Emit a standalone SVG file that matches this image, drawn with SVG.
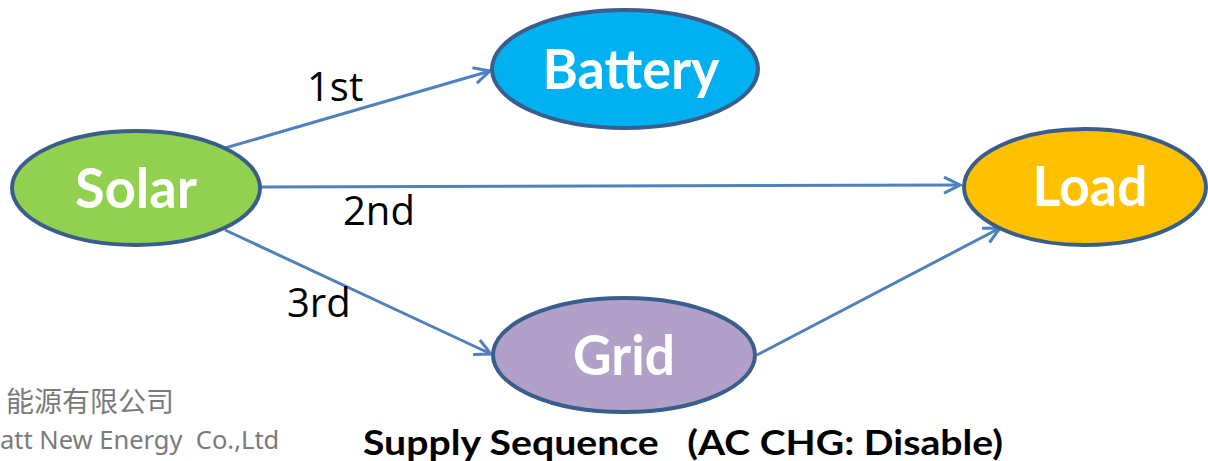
<svg xmlns="http://www.w3.org/2000/svg" width="1208" height="461" viewBox="0 0 1208 461">
<style>
.node{stroke:#3A5E8C;stroke-width:4}
.nl{font-family:Lato,"Open Sans",sans-serif;font-weight:bold;font-size:55px;fill:#fff;text-anchor:middle}
.edge{stroke:#4F81BD;stroke-width:3;fill:none;marker-end:url(#arr)}
.el{font-family:"Open Sans","Liberation Sans",sans-serif;font-size:40px;fill:#000}
.wm{fill:#7a7a7a}
</style>
<defs>
<marker id="arr" viewBox="0 0 20 20" refX="18" refY="10" markerWidth="20" markerHeight="20" markerUnits="userSpaceOnUse" orient="auto">
<path d="M2,2 L18,10 L2,18" fill="none" stroke="#4F81BD" stroke-width="3"/>
</marker>
</defs>
<g id="connectors">
<line class="edge" x1="225" y1="148" x2="490" y2="71"/>
<line class="edge" x1="260" y1="187" x2="960" y2="185"/>
<line class="edge" x1="225" y1="230" x2="491" y2="354"/>
<line class="edge" x1="757" y1="355" x2="1000" y2="228"/>
<text class="el" x="307" y="101">1st</text>
<text class="el" x="343" y="225">2nd</text>
<text class="el" x="287" y="317">3rd</text>
</g>
<g id="solar">
<ellipse class="node" cx="136" cy="188" rx="124" ry="57" fill="#92D050"/>
<text class="nl" x="136" y="208" textLength="122" lengthAdjust="spacingAndGlyphs">Solar</text>
</g>
<g id="battery">
<ellipse class="node" cx="625" cy="69" rx="133" ry="59" fill="#00B0F0"/>
<text class="nl" x="631" y="89" textLength="177" lengthAdjust="spacingAndGlyphs">Battery</text>
</g>
<g id="grid">
<ellipse class="node" cx="624" cy="355" rx="131" ry="57" fill="#B1A0C7"/>
<text class="nl" x="624" y="375" textLength="102" lengthAdjust="spacingAndGlyphs">Grid</text>
</g>
<g id="load">
<ellipse class="node" cx="1085" cy="187" rx="121" ry="58" fill="#FFC000"/>
<text class="nl" x="1090" y="206" textLength="115" lengthAdjust="spacingAndGlyphs">Load</text>
</g>
<text x="363" y="455" font-family="Lato,'Open Sans',sans-serif" font-weight="bold" font-size="34" fill="#000" xml:space="preserve" textLength="640" lengthAdjust="spacingAndGlyphs">Supply Sequence   (AC CHG: Disable)</text>
<text class="wm" x="6" y="412" font-family="'Noto Sans CJK SC',sans-serif" font-size="28">能源有限公司</text>
<text class="wm" x="0" y="449" font-family="'Noto Sans','Open Sans',sans-serif" font-size="25.5" xml:space="preserve">att New Energy  Co.,Ltd</text>
</svg>
